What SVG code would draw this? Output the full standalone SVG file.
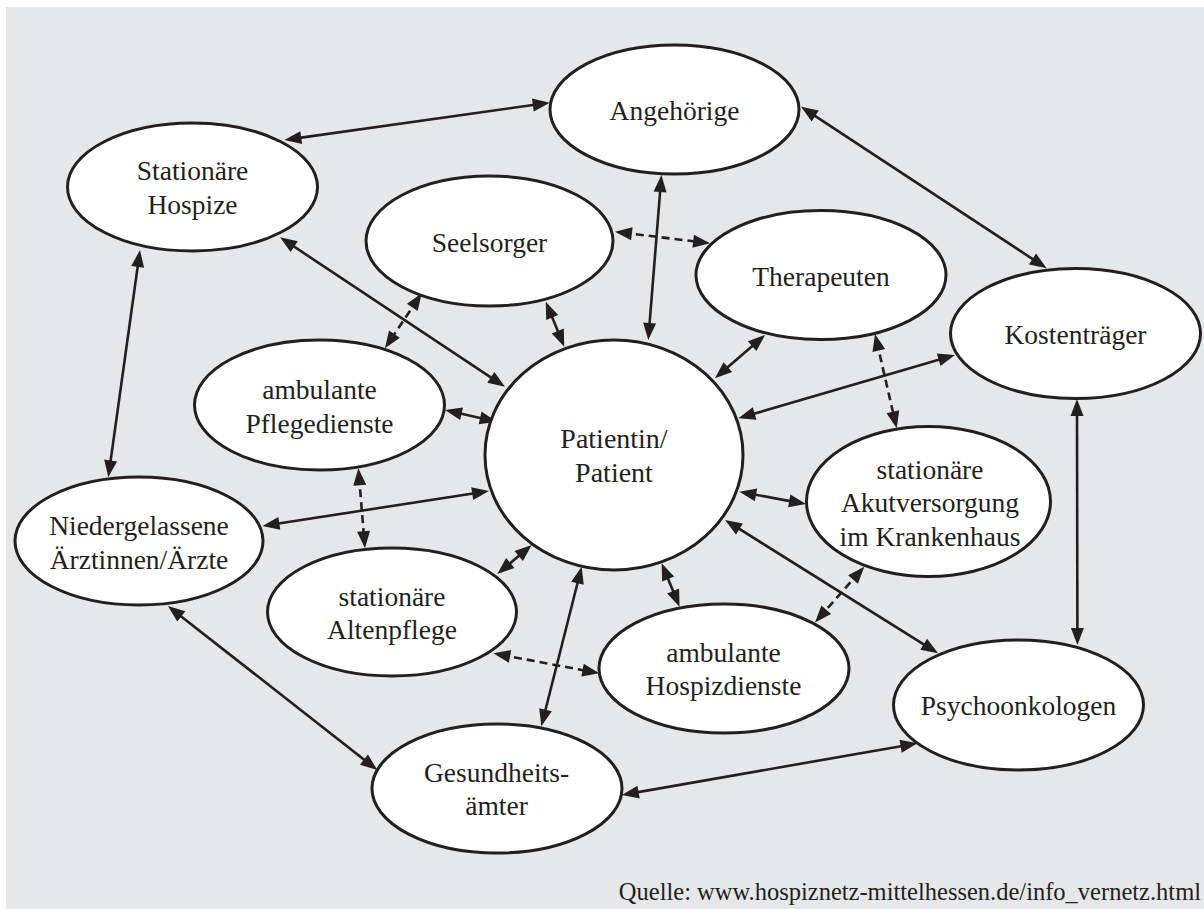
<svg xmlns="http://www.w3.org/2000/svg" width="1204" height="909" viewBox="0 0 1204 909">
<style>
.node ellipse{fill:#ffffff;stroke:#231f20;stroke-width:3}
.node text{font-family:"Liberation Serif","Times New Roman",serif;font-size:27.5px;fill:#231f20;text-anchor:middle}
.edge line{stroke:#231f20;stroke-width:2.6;fill:none;marker-start:url(#ah);marker-end:url(#ah)}
.edge line.d{stroke-dasharray:8 5}
.cap{font-family:"Liberation Serif","Times New Roman",serif;font-size:24.5px;fill:#231f20;text-anchor:end}
</style>
<defs>
<marker id="ah" markerUnits="userSpaceOnUse" markerWidth="18" markerHeight="14" refX="9" refY="6.5" orient="auto-start-reverse" overflow="visible">
<path d="M0,0 L17,6.5 L0,13 z" fill="#231f20"/>
</marker>
</defs>
<rect x="0" y="0" width="1204" height="909" fill="#ffffff"/>
<rect x="6" y="7" width="1198" height="902" fill="#e6e7e8"/>

<g id="connectors" class="edge">
<line x1="292.3" y1="138.9" x2="541.8" y2="103.8"/>
<line x1="660.8" y1="183" x2="648.9" y2="332"/>
<line x1="807.7" y1="111.1" x2="1040" y2="263.9"/>
<line class="d" x1="622.9" y1="232.7" x2="702.1" y2="242.3"/>
<line x1="286.7" y1="241.7" x2="498.3" y2="382.3"/>
<line x1="548.8" y1="309.1" x2="561.2" y2="339.3"/>
<line class="d" x1="417.3" y1="300" x2="389.4" y2="341.6"/>
<line x1="138.9" y1="257.9" x2="109.4" y2="469.4"/>
<line x1="452.8" y1="411.8" x2="488.9" y2="419.9"/>
<line class="d" x1="359" y1="476.3" x2="364.3" y2="540.3"/>
<line x1="759" y1="340.2" x2="721" y2="373.1"/>
<line class="d" x1="876.8" y1="341.8" x2="894.9" y2="420.5"/>
<line x1="947.3" y1="357.2" x2="746" y2="416.1"/>
<line x1="1077" y1="407" x2="1077.4" y2="637"/>
<line x1="747.2" y1="493.2" x2="798.1" y2="502.6"/>
<line x1="731.8" y1="524.2" x2="931.3" y2="649.1"/>
<line class="d" x1="859" y1="572.7" x2="820.3" y2="616.5"/>
<line x1="664.7" y1="570.7" x2="676.5" y2="599.3"/>
<line x1="525.6" y1="550.2" x2="503.4" y2="568.8"/>
<line x1="579.7" y1="574.5" x2="543.3" y2="718.5"/>
<line class="d" x1="501.2" y1="654.8" x2="591.4" y2="671.8"/>
<line x1="481.1" y1="492.2" x2="270.4" y2="524.8"/>
<line x1="174.2" y1="610.9" x2="371" y2="765.1"/>
<line x1="629.7" y1="793.6" x2="909.5" y2="744.7"/>
</g>

<g id="angehoerige" class="node">
<ellipse cx="674.5" cy="109.5" rx="124.5" ry="64.5"/>
<text x="674.5" y="120">Angehörige</text>
</g>
<g id="stationaere-hospize" class="node">
<ellipse cx="192.5" cy="187" rx="125" ry="64"/>
<text x="192.5" y="180">Stationäre</text>
<text x="192.5" y="214">Hospize</text>
</g>
<g id="seelsorger" class="node">
<ellipse cx="489.5" cy="241" rx="123.5" ry="65"/>
<text x="489.5" y="252">Seelsorger</text>
</g>
<g id="therapeuten" class="node">
<ellipse cx="821" cy="275" rx="125" ry="64.5"/>
<text x="821" y="286">Therapeuten</text>
</g>
<g id="kostentraeger" class="node">
<ellipse cx="1075.5" cy="333.5" rx="125" ry="65"/>
<text x="1075.5" y="343.5">Kostenträger</text>
</g>
<g id="ambulante-pflegedienste" class="node">
<ellipse cx="319.5" cy="405" rx="125" ry="65"/>
<text x="319.5" y="398.5">ambulante</text>
<text x="319.5" y="432.5">Pflegedienste</text>
</g>
<g id="patient" class="node">
<ellipse cx="614" cy="455" rx="129" ry="115"/>
<text x="614" y="448" style="font-size:28px">Patientin/</text>
<text x="614" y="482" style="font-size:28px">Patient</text>
</g>
<g id="akutversorgung" class="node">
<ellipse cx="928.5" cy="501.5" rx="122" ry="75"/>
<text x="930" y="478.5">stationäre</text>
<text x="930" y="512">Akutversorgung</text>
<text x="930" y="546">im Krankenhaus</text>
</g>
<g id="niedergelassene" class="node">
<ellipse cx="139" cy="541" rx="124" ry="64"/>
<text x="139" y="535">Niedergelassene</text>
<text x="139" y="568.5">Ärztinnen/Ärzte</text>
</g>
<g id="altenpflege" class="node">
<ellipse cx="392" cy="612" rx="124.5" ry="64"/>
<text x="392" y="606">stationäre</text>
<text x="392" y="638.5">Altenpflege</text>
</g>
<g id="hospizdienste" class="node">
<ellipse cx="724" cy="668.5" rx="125" ry="64.5"/>
<text x="723.5" y="661.5">ambulante</text>
<text x="723.5" y="695">Hospizdienste</text>
</g>
<g id="psychoonkologen" class="node">
<ellipse cx="1018.5" cy="705" rx="125" ry="65"/>
<text x="1018.5" y="715">Psychoonkologen</text>
</g>
<g id="gesundheitsaemter" class="node">
<ellipse cx="497" cy="788.5" rx="125" ry="64.5"/>
<text x="496.5" y="781.5">Gesundheits-</text>
<text x="496.5" y="815">ämter</text>
</g>

<text class="cap" x="1201" y="899.5">Quelle: www.hospiznetz-mittelhessen.de/info_vernetz.html</text>
</svg>
